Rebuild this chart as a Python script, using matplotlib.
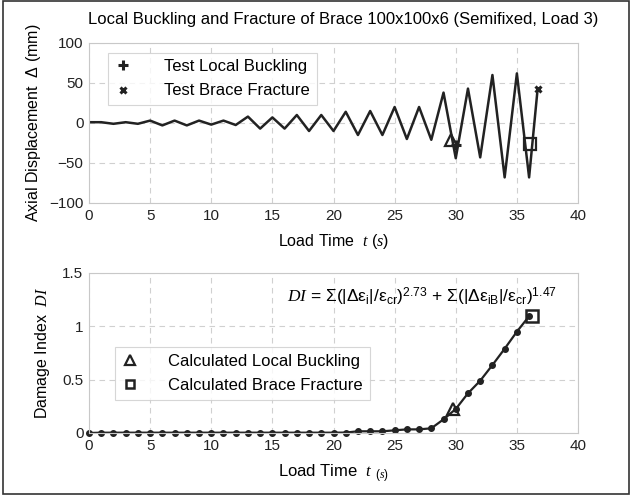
import matplotlib
matplotlib.use("Agg")
import matplotlib.pyplot as plt
from matplotlib.patches import Rectangle

plt.rcParams['font.family'] = ['Liberation Sans', 'DejaVu Sans']
plt.rcParams['mathtext.fontset'] = 'custom'
plt.rcParams['mathtext.rm'] = 'Liberation Sans'
plt.rcParams['mathtext.it'] = 'Liberation Serif:italic'
plt.rcParams['mathtext.bf'] = 'Liberation Sans:bold'

# ---- data ----
t_disp = [0, 1, 2, 3, 4, 5, 6, 7, 8, 9, 10, 11, 12, 13, 14, 15, 16, 17, 18,
          19, 20, 21, 22, 23, 24, 25, 26, 27, 28, 29, 30, 31, 32, 33, 34, 35,
          36, 36.7]
disp = [1, 1, -1, 1, -1, 3, -3, 3, -3, 3, -2, 3, -2.5, 8, -7, 7, -7, 10, -10,
        10, -10, 14, -15, 15, -15, 20, -20, 20, -21, 38, -44, 43, -43, 60, -68,
        62, -68, 43]
test_lb = (30.0, -27)
test_bf = (36.7, 43)
calc_lb_top = (29.6, -21)
calc_bf_top = (36.1, -26)

t_di = list(range(0, 37))
di = [0.0, 0.003, 0.003, 0.003, 0.003, 0.003, 0.003, 0.003, 0.003, 0.003,
      0.003, 0.003, 0.003, 0.003, 0.003, 0.003, 0.003, 0.003, 0.003, 0.003,
      0.003, 0.004, 0.016, 0.016, 0.016, 0.025, 0.034, 0.034, 0.044, 0.128,
      0.225, 0.372, 0.49, 0.637, 0.79, 0.95, 1.095]
calc_lb = (29.8, 0.225)
calc_bf = (36.2, 1.10)

xticks = [0, 5, 10, 15, 20, 25, 30, 35, 40]
yticks_top = [-100, -50, 0, 50, 100]
yticks_bot = [0, 0.5, 1, 1.5]

W, H = 632, 495
fig = plt.figure(figsize=(W / 100, H / 100), dpi=100)
lc = '#222222'
gc = '#c8c8c8'

def ax_rect(l, t, r, b):
    return [l / W, 1 - b / H, (r - l) / W, (b - t) / H]

ax1 = fig.add_axes(ax_rect(89, 43, 578, 203))
ax2 = fig.add_axes(ax_rect(89, 273, 578, 433))

for ax in (ax1, ax2):
    ax.set_xlim(0, 40)
    ax.set_xticks(xticks)
    ax.grid(True, linestyle=(0, (5, 4)), color='#d0d0d0', linewidth=0.8)
    for s in ax.spines.values():
        s.set_color(gc)
        s.set_linewidth(0.8)
    ax.tick_params(length=0, labelsize=11, colors='#222222', pad=4)

# top plot
ax1.set_ylim(-100, 100)
ax1.set_yticks(yticks_top)
ax1.plot(t_disp, disp, color=lc, lw=1.8)
ax1.plot(*calc_lb_top, marker='^', ms=8, mfc='none', mec=lc, mew=1.6, ls='none')
ax1.plot(*calc_bf_top, marker='s', ms=8, mfc='none', mec=lc, mew=1.6, ls='none')
h1, = ax1.plot(*test_lb, marker='+', ms=7, mec=lc, mew=2.2, ls='none',
               label='Test Local Buckling')
h2, = ax1.plot(*test_bf, marker='x', ms=5, mec=lc, mew=2.2, ls='none',
               label='Test Brace Fracture')
leg1 = ax1.legend(handles=[h1, h2], loc='upper left',
                  bbox_to_anchor=(0.038, 0.94), fontsize=12,
                  frameon=True, fancybox=False, edgecolor='#cccccc',
                  handlelength=1.0, handletextpad=2.0, borderpad=0.4,
                  labelspacing=0.55, borderaxespad=0)
leg1.get_frame().set_linewidth(0.8)
ax1.set_title('Local Buckling and Fracture of Brace 100x100x6 (Semifixed, Load 3)',
              fontsize=12, pad=14, x=0.52)
ax1.set_xlabel('Load Time  $\\mathit{t}$ ($\\mathit{s}$)', fontsize=11.5, labelpad=7)
ax1.set_ylabel('Axial Displacement  $\\Delta$ (mm)', fontsize=11.5)
ax1.yaxis.set_label_coords(-0.094, 0.5)

# bottom plot
ax2.set_ylim(0, 1.5)
ax2.set_yticks(yticks_bot)
ax2.set_yticklabels(['0', '0.5', '1', '1.5'])
ax2.plot(t_di, di, color=lc, lw=1.6, marker='o', ms=4, clip_on=False)
h3, = ax2.plot(*calc_lb, marker='^', ms=9, mfc='none', mec=lc, mew=1.6,
               ls='none', label='Calculated Local Buckling')
h4, = ax2.plot(*calc_bf, marker='s', ms=8, mfc='none', mec=lc, mew=1.8,
               ls='none', label='Calculated Brace Fracture')
leg2 = ax2.legend(handles=[h3, h4], loc='upper left',
                  bbox_to_anchor=(0.053, 0.535), fontsize=12,
                  frameon=True, fancybox=False, edgecolor='#cccccc',
                  handlelength=1.0, handletextpad=1.8, borderpad=0.4,
                  labelspacing=0.55, borderaxespad=0, markerscale=0.8)
leg2.get_frame().set_linewidth(0.8)
ax2.set_xlabel('Load Time  $\\mathit{t}$ $_{(\\mathit{s})}$', fontsize=12, labelpad=7)
ax2.set_ylabel('Damage Index  $\\mathit{DI}$', fontsize=11.5)
ax2.yaxis.set_label_coords(-0.076, 0.5)
eq = ('$\\mathit{DI}$ = Σ(|Δε$_{\\rm i}$|/ε$_{\\rm cr}$)$^{2.73}$'
      ' + Σ(|Δε$_{\\rm iB}$|/ε$_{\\rm cr}$)$^{1.47}$')
ax2.text(0.68, 0.85, eq, transform=ax2.transAxes, ha='center', va='center',
         fontsize=12.5)

# figure border
fig.patches.append(Rectangle((0.004, 0.003), 0.992, 0.994, transform=fig.transFigure,
                             fill=False, edgecolor='#333333', linewidth=1.2))

fig.savefig('out.png', dpi=100)
